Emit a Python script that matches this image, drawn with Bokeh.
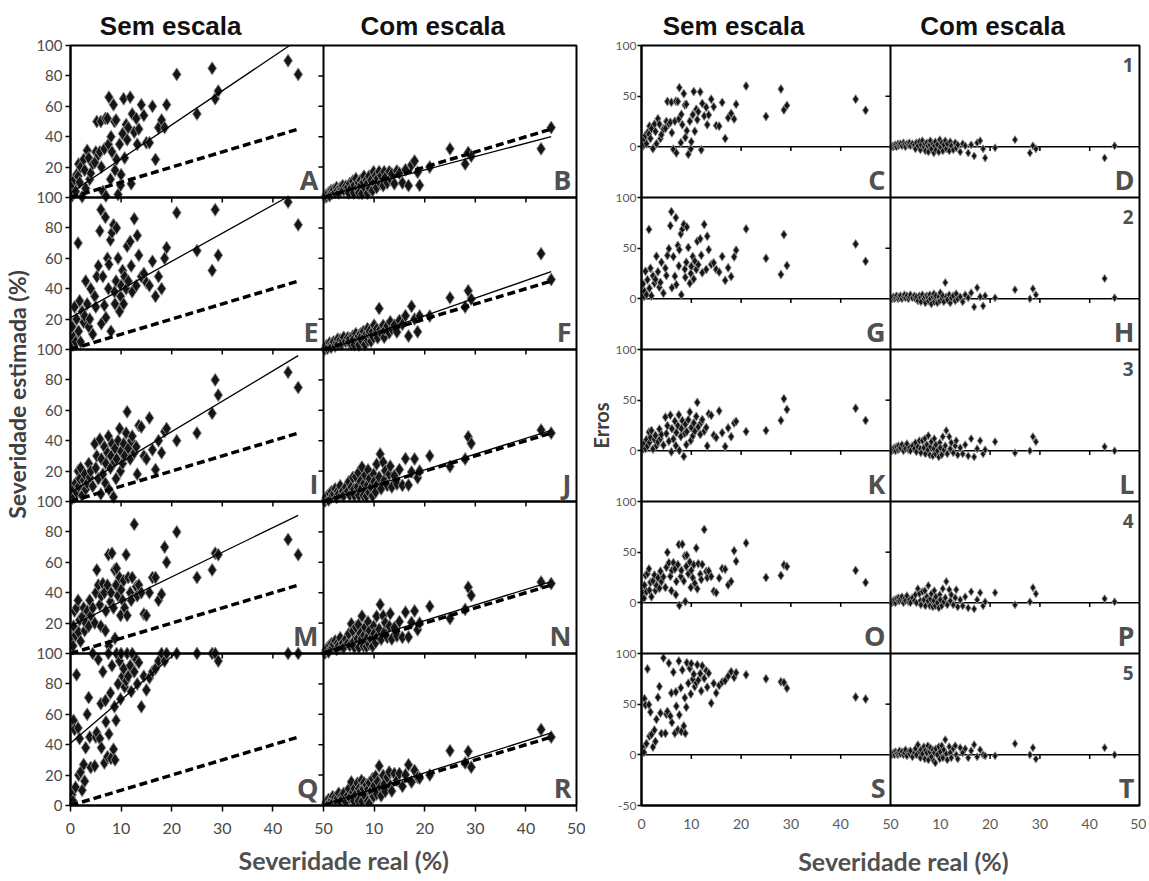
from bokeh.plotting import figure
from bokeh.layouts import row
from bokeh.models import Range1d, FixedTicker, Label, Span, LinearAxis
from bokeh.embed import file_html
from bokeh.resources import INLINE

# ---------------- data ----------------
# real severity (%) of each evaluated leaf (shared by all panels)
x_real = [0.3, 0.5, 0.6, 0.8, 1.0,
          1.2, 1.5, 1.6, 1.8, 2.0,
          2.3, 2.6, 2.8, 3.0, 3.3,
          3.6, 3.8, 4.0, 4.4, 4.8,
          5.0, 5.2, 5.5, 5.8, 6.0,
          6.1, 6.4, 6.7, 6.9, 7.0,
          7.3, 7.5, 7.6, 7.9, 8.0,
          8.2, 8.5, 8.7, 8.8, 9.0,
          9.1, 9.4, 9.7, 9.9, 10.0,
          10.3, 10.5, 10.7, 11.0, 11.2,
          11.4, 11.8, 12.0, 12.2, 12.6,
          13.0, 13.2, 13.5, 14.0, 14.5,
          15.0, 15.6, 16.2, 16.8, 17.4,
          18.0, 18.6, 19.0, 21.0, 25.0,
          28.0, 28.6, 29.2, 43.0, 45.0]

# estimated severity without scale ("Sem escala"), raters 1-5
est_A = [1, 3, 8, 12, 4, 15, 14, 22, 10, 20, 0.5, 25, 18, 6, 31,
         26, 12, 16, 22, 23, 30, 50, 28, 30, 50, 20, 4, 32, 52, 1,
         52, 35, 66, 12, 40, 30, 61, 50, 18, 51, 25, 2, 35, 8, 15,
         42, 65, 26, 48, 38, 46, 66, 9, 55, 43, 52, 35, 45, 61, 54,
         36, 36, 60, 25, 46, 51, 46, 61, 81, 55, 85, 65, 70, 90, 81]
est_E = [15, 3, 8, 28, 5, 20, 70, 12, 32, 5, 25, 18, 22, 45, 30,
         15, 20, 40, 10, 35, 28, 48, 55, 78, 92, 17, 48, 29, 87, 21,
         60, 40, 56, 72, 12, 77, 82, 38, 30, 45, 80, 60, 25, 35, 42,
         52, 30, 48, 40, 68, 45, 71, 55, 38, 86, 42, 75, 62, 48, 50,
         44, 42, 58, 35, 48, 40, 60, 67, 90, 65, 52, 92, 62, 97, 82]
est_I = [2, 5, 8, 3, 12, 6, 20, 10, 15, 22, 4, 14, 18, 8, 12,
         25, 16, 20, 10, 38, 22, 30, 15, 41, 5, 28, 18, 36, 12, 25,
         32, 43, 8, 22, 30, 38, 3, 26, 35, 15, 28, 40, 48, 20, 33,
         25, 38, 30, 45, 59, 35, 28, 40, 43, 32, 36, 18, 50, 49, 30,
         28, 55, 34, 21, 40, 32, 46, 48, 40, 45, 58, 80, 70, 85, 75]
est_M = [10, 5, 18, 28, 12, 30, 35, 14, 22, 8, 24, 30, 15, 20, 28,
         18, 35, 25, 30, 20, 40, 55, 45, 32, 18, 38, 46, 40, 15, 28,
         45, 65, 5, 34, 40, 66, 30, 55, 10, 45, 56, 38, 50, 25, 42,
         35, 48, 30, 65, 25, 50, 40, 35, 50, 85, 44, 38, 45, 40, 26,
         25, 40, 50, 50, 35, 39, 70, 60, 80, 50, 55, 66, 65, 75, 65]
est_Q = [7, 3, 56, 50, 12, 86, 51, 20, 44, 22, 10, 27, 16, 38, 60,
         71, 45, 25, 100, 26, 45, 48, 96, 44, 67, 38, 88, 28, 69, 55,
         32, 100, 47, 74, 31, 92, 37, 65, 30, 56, 100, 80, 95, 70, 100,
         85, 90, 78, 82, 100, 85, 92, 75, 100, 88, 96, 80, 94, 65, 85,
         76, 84, 88, 90, 95, 100, 95, 100, 100, 100, 100, 100, 95, 100, 100]

# errors of the estimates made with the scale ("Com escala"), raters 1-5
err_B = [0, 1, 0, 1, 2, 0, 3, 1, 2, 3, 1, 4, 2, 0, 3,
         2, 4, 1, 3, 2, -2, 4, 1, 5, -3, 2, 6, 0, 3, -4,
         4, 1, -5, 2, 6, -2, 3, -6, 1, 5, -3, 2, -5, 7, 0,
         4, -4, 2, 6, -2, 3, -4, 5, 1, -3, 4, -1, 2, -5, 3,
         1, -6, 2, -9, 4, 6, -2, -11, -1, 7, -6, 1, -2, -11, 1]
err_F = [0, 1, 2, 0, 1, 3, 0, 2, 1, 3, 0, 2, 4, 1, 3,
         0, 2, 4, 1, 3, 0, 2, -2, 3, 1, -3, 4, 0, 2, -4,
         3, 1, -2, 4, 0, -5, 2, 5, -3, 1, 3, -4, 2, -2, 6,
         0, 3, -3, 16, 2, -1, 4, -4, 1, 3, -2, 5, 0, 2, -3,
         4, 1, 6, -8, 11, 2, -7, 3, 1, 9, 0, 10, 4, 20, 1]
err_J = [0, 2, 1, 3, 0, 4, 1, 5, 2, 3, 6, 0, 4, 2, 7,
         1, 3, 0, 5, 2, 8, -1, 4, 10, 2, -2, 10, 3, 12, -3,
         6, 1, 15, -4, 4, 9, -5, 2, 12, -3, 6, 0, -6, 8, 3,
         -4, 14, 1, 5, 20, -3, 14, 2, 8, -2, 5, 10, -4, 3, -3,
         6, -5, 12, -6, 2, 10, -3, 1, 9, -2, 0, 14, 9, 4, 0]
err_N = [0, 2, 1, 3, 0, 4, 2, 5, 2, 4, 6, 0, 4, 2, 7,
         1, 3, 0, 5, 2, 8, 0, 14, 9, 2, -2, 11, 3, 12, -3,
         6, 2, 17, -3, 4, 9, -4, 2, 12, -3, 6, 0, -5, 8, 3,
         -3, 14, 1, 5, 21, -2, 13, 2, 8, -2, 5, 13, -4, 3, -3,
         6, -5, 11, -6, 3, 10, -3, 1, 10, -2, 1, 15, 9, 4, 1]
err_R = [0, 1, 2, 0, 3, 1, 0, 2, 4, 1, 3, 0, 2, 5, -1,
         3, 1, 4, -2, 2, 6, 0, 10, 3, -3, 5, 1, 8, -4, 4,
         2, 9, -5, 3, 7, -2, 5, -6, 2, -8, 6, 0, 8, -4, 3,
         9, -3, 5, 15, 1, -5, 8, 2, -3, 6, 9, 0, -4, 7, 2,
         6, -3, 4, 10, -2, 5, 0, -1, -1, 11, 0, 7, -4, 7, 0]

# fitted regression lines (intercept, slope)
reg_int_sem = [3, 21, 6, 18, 41]
reg_slope_sem = [2.24, 1.85, 2.0, 1.62, 2.85]
reg_int_com = [0.5, -1, 0, 1, 0.5]
reg_slope_com = [0.88, 1.16, 1.04, 1.03, 1.05]

letters_sem = ["A", "E", "I", "M", "Q"]
letters_com = ["B", "F", "J", "N", "R"]
letters_err_sem = ["C", "G", "K", "O", "S"]
letters_err_com = ["D", "H", "L", "P", "T"]
col_titles = ["Sem escala", "Com escala"]
y_title_left = "Severidade estimada (%)"
y_title_right = "Erros"
x_title = "Severidade real (%)"
y_ticks_left = [0, 20, 40, 60, 80, 100]
y_ticks_right = [-50, 0, 50, 100]
x_ticks = [0, 10, 20, 30, 40, 50]
inner_x_ticks = [10, 20, 30, 40]
inner_y_ticks = [20, 40, 60, 80]

est_sem = [est_A, est_E, est_I, est_M, est_Q]
err_com = [err_B, err_F, err_J, err_N, err_R]
for lst in est_sem + err_com:
    assert len(lst) == len(x_real)

# ---------------- layout constants ----------------
PW_L, PW_R, PH = 253, 249, 152
NROW = 5
TICK_FONT = "Lato"
XMAX = max(x_real)


def base_fig(fw, ymax, lb, rb, bb):
    p = figure(frame_width=fw, frame_height=NROW * PH,
               x_range=Range1d(0, 100), y_range=Range1d(0, ymax),
               min_border_left=lb, min_border_right=rb,
               min_border_top=45, min_border_bottom=bb,
               toolbar_location=None, output_backend="svg", title=None)
    p.xgrid.grid_line_color = None
    p.ygrid.grid_line_color = None
    p.outline_line_color = "black"
    p.outline_line_width = 2
    p.background_fill_color = "white"
    p.border_fill_color = "white"
    for ax in (p.xaxis[0], p.yaxis[0]):
        ax.minor_tick_line_color = None
        ax.major_tick_in = 0
        ax.axis_line_color = "black"
        ax.axis_line_width = 2
        ax.major_tick_line_color = "black"
        ax.major_tick_line_width = 1.5
        ax.major_label_text_font = TICK_FONT
    return p


def stacked_labels(ticks, nstack, step, offset):
    labels = {}
    for k in range(nstack):
        for t in ticks:
            v = step * k + t + offset
            if v not in labels:
                labels[v] = str(t)
    return labels


def text_axis(p, side, positions, texts, font, size, color, standoff, orientation=None):
    ax = LinearAxis(ticker=FixedTicker(ticks=positions),
                    major_label_overrides=dict(zip(positions, texts)))
    ax.axis_line_color = None
    ax.major_tick_line_color = None
    ax.minor_tick_line_color = None
    ax.major_tick_in = 0
    ax.major_tick_out = 0
    ax.major_label_standoff = standoff
    ax.major_label_text_font = font
    ax.major_label_text_font_style = "bold"
    ax.major_label_text_font_size = size
    ax.major_label_text_color = color
    if orientation is not None:
        ax.major_label_orientation = orientation
    p.add_layout(ax, side)


def scatter(p, xs, ys, size, xr, yr):
    p.scatter(xs, ys, marker="diamond", size=size, fill_color="#151515",
              line_color="#8a8a8a", line_width=1, x_range_name=xr, y_range_name=yr)


def letter(p, text, x, y):
    p.add_layout(Label(x=x, y=y, x_offset=-5, y_offset=0, text=text,
                       text_align="right", text_baseline="bottom",
                       text_font="Open Sans", text_font_style="bold",
                       text_font_size="27px", text_color="#505050"))


# ================= left block: estimated severity =================
left = base_fig(2 * PW_L, 500, 68, 9, 75)
left.extra_x_ranges = {"c0": Range1d(0, 100), "c1": Range1d(-50, 50)}
left.extra_y_ranges = {f"r{r}": Range1d(-100 * (4 - r), 500 - 100 * (4 - r)) for r in range(NROW)}

ylab = stacked_labels(y_ticks_left, NROW, 100, 0)
left.yaxis[0].ticker = FixedTicker(ticks=sorted(ylab))
left.yaxis[0].major_label_overrides = ylab
left.yaxis[0].major_tick_out = 5
left.yaxis[0].major_label_standoff = 3
left.yaxis[0].major_label_text_font_size = "15px"
left.yaxis[0].major_label_text_color = "#4a4a4a"
xlab = stacked_labels(x_ticks, 2, 50, 0)
left.xaxis[0].ticker = FixedTicker(ticks=sorted(xlab))
left.xaxis[0].major_label_overrides = xlab
left.xaxis[0].major_tick_out = 6
left.xaxis[0].major_label_standoff = 11
left.xaxis[0].major_label_text_font_size = "16px"
left.xaxis[0].major_label_text_color = "#4a4a4a"

for r in range(NROW):
    yr = f"r{r}"
    b, m = reg_int_sem[r], reg_slope_sem[r]
    scatter(left, x_real, est_sem[r], 13, "c0", yr)
    est_c = [x + e for x, e in zip(x_real, err_com[r])]
    scatter(left, x_real, est_c, 13, "c1", yr)
    for c, (bb, mm) in enumerate([(b, m), (reg_int_com[r], reg_slope_com[r])]):
        xr = f"c{c}"
        left.line([0, XMAX], [0, XMAX], line_color="black", line_width=3.5,
                  line_dash="8 4", x_range_name=xr, y_range_name=yr)
        x0 = max(0, -bb / mm)
        x1 = min(XMAX, (100 - bb) / mm)
        left.line([x0, x1], [bb + mm * x0, bb + mm * x1], line_color="black",
                  line_width=1.3, x_range_name=xr, y_range_name=yr)
        if r > 0:
            left.segment(x0=inner_x_ticks, y0=[100] * 4, x1=inner_x_ticks, y1=[96.7] * 4,
                         line_color="black", line_width=1.5, x_range_name=xr, y_range_name=yr)
    left.segment(x0=[50] * 4, y0=inner_y_ticks, x1=[49] * 4, y1=inner_y_ticks,
                 line_color="black", line_width=1.5, x_range_name="c0", y_range_name=yr)
    letter(left, letters_sem[r], 50, 100 * (4 - r))
    letter(left, letters_com[r], 100, 100 * (4 - r))

for k in range(1, NROW):
    left.add_layout(Span(location=100 * k, dimension="width", line_color="black", line_width=2.5))
left.add_layout(Span(location=50, dimension="height", line_color="black", line_width=2))

# column headers, axis titles (as label-only axes so they sit outside the frame)
text_axis(left, "above", [19.8, 71.6], col_titles, "Liberation Sans", "26px", "#111111", 5)
text_axis(left, "left", [270.4], [y_title_left], "Lato", "23px", "#404040", 2, "vertical")
text_axis(left, "below", [54.0], [x_title], "Lato", "25px", "#505050", 8)

# ================= right block: errors =================
right = base_fig(2 * PW_R, 750, 40, 7, 75)
right.extra_x_ranges = {"c0": Range1d(0, 100), "c1": Range1d(-50, 50)}
right.extra_y_ranges = {f"r{r}": Range1d(-50 - 150 * (4 - r), 700 - 150 * (4 - r)) for r in range(NROW)}

ylab_r = stacked_labels(y_ticks_right, NROW, 150, 50)
ry = right.yaxis[0]
ry.ticker = FixedTicker(ticks=sorted(ylab_r))
ry.major_label_overrides = ylab_r
ry.major_tick_out = 4
ry.major_label_standoff = 1
ry.major_label_text_font_size = "12px"
ry.major_label_text_color = "#5a5a5a"
ry.axis_label = y_title_right
ry.axis_label_standoff = 0
ry.axis_label_text_font = "Lato"
ry.axis_label_text_font_style = "bold"
ry.axis_label_text_font_size = "20px"
ry.axis_label_text_color = "#404040"
right.xaxis[0].ticker = FixedTicker(ticks=sorted(xlab))
right.xaxis[0].major_label_overrides = xlab
right.xaxis[0].major_tick_out = 0
right.xaxis[0].major_label_standoff = 13
right.xaxis[0].major_label_text_font_size = "14px"
right.xaxis[0].major_label_text_color = "#5a5a5a"

for r in range(NROW):
    yr = f"r{r}"
    err_s = [e - x for x, e in zip(x_real, est_sem[r])]
    for c in range(2):
        xr = f"c{c}"
        right.segment(x0=[0], y0=[0], x1=[50], y1=[0], line_color="black",
                      line_width=1.5, x_range_name=xr, y_range_name=yr)
        right.segment(x0=inner_x_ticks, y0=[0] * 4, x1=inner_x_ticks, y1=[-4] * 4,
                      line_color="black", line_width=1.5, x_range_name=xr, y_range_name=yr)
    right.segment(x0=[50], y0=[50], x1=[49], y1=[50], line_color="black",
                  line_width=1.5, x_range_name="c0", y_range_name=yr)
    scatter(right, x_real, err_s, 9, "c0", yr)
    scatter(right, x_real, err_com[r], 8, "c1", yr)
    letter(right, letters_err_sem[r], 50, 150 * (4 - r))
    letter(right, letters_err_com[r], 100, 150 * (4 - r))
    right.add_layout(Label(x=100, y=150 * (5 - r), x_offset=-6, y_offset=-12, text=str(r + 1),
                           text_align="right", text_baseline="top", text_font="Open Sans",
                           text_font_style="bold", text_font_size="19px", text_color="#505050"))

for k in range(1, NROW):
    right.add_layout(Span(location=150 * k, dimension="width", line_color="black", line_width=2))
right.add_layout(Span(location=50, dimension="height", line_color="black", line_width=2))

text_axis(right, "above", [18.5, 70.5], col_titles, "Liberation Sans", "26px", "#111111", 5)
text_axis(right, "below", [52.6], [x_title], "Lato", "25px", "#505050", 14)

layout = row(left, right)
open("out.html", "w").write(file_html(layout, INLINE))
